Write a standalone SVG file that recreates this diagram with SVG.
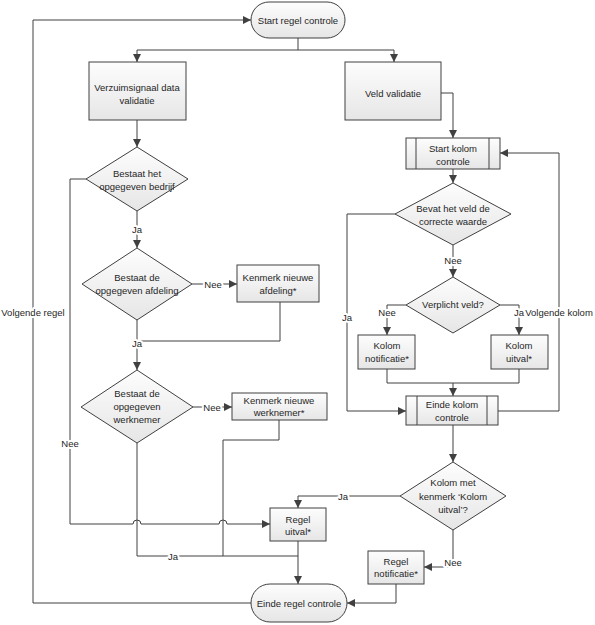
<svg xmlns="http://www.w3.org/2000/svg" width="595" height="625" viewBox="0 0 595 625">
<defs>
<linearGradient id="g" x1="0" y1="0" x2="0" y2="1">
<stop offset="0" stop-color="#fdfdfd"/>
<stop offset="1" stop-color="#e6e6e6"/>
</linearGradient>
<marker id="a" viewBox="0 0 8 8" markerWidth="8" markerHeight="8" refX="8" refY="4" orient="auto" markerUnits="userSpaceOnUse">
<path d="M0,0 L8,4 L0,8 z" fill="#404040"/>
</marker>
<style>
.n{fill:url(#g);stroke:#404040;stroke-width:1}
.l{fill:none;stroke:#404040;stroke-width:1}
.c{fill:none;stroke:#404040;stroke-width:1;marker-end:url(#a)}
text{font-family:"Liberation Sans",Arial,sans-serif;font-size:9.5px;fill:#262626;text-anchor:middle;dominant-baseline:central}
.lb{paint-order:stroke;stroke:#fff;stroke-width:4px;stroke-linejoin:round}
</style>
</defs>
<rect width="595" height="625" fill="#fff"/>
<g id="connectors">
<path class="c" d="M298,38 V50 H137 V62"/>
<path class="c" d="M298,50 H394 V62"/>
<path class="c" d="M137,120 V147"/>
<path class="c" d="M441,93 H453 V138"/>
<path class="c" d="M453,169 V183"/>
<path class="c" d="M137,211 V248"/>
<path class="c" d="M86,179 H70 V524 H133 A4,4 0 0 1 141,524 H219 A4,4 0 0 1 227,524 H270"/>
<path class="c" d="M192,284 H237"/>
<path class="c" d="M137,320 V370"/>
<path class="l" d="M280,302 V341 H137"/>
<path class="c" d="M193,407 H232"/>
<path class="l" d="M137,443 V556 H298"/>
<path class="l" d="M279,420 V440 H223 V556"/>
<path class="c" d="M298,541 V584"/>
<path class="c" d="M251,603 H33 V20 H251"/>
<path class="c" d="M395,214 H347 V411 H406"/>
<path class="c" d="M453,245 V277"/>
<path class="c" d="M406,305 H387 V335"/>
<path class="c" d="M500,305 H519 V335"/>
<path class="l" d="M387,369 V383 H519 V369"/>
<path class="c" d="M453,383 V396"/>
<path class="c" d="M498,411 H559 V153 H500"/>
<path class="c" d="M453,425 V462"/>
<path class="c" d="M400,496 H298 V508"/>
<path class="c" d="M453,530 V567 H424"/>
<path class="c" d="M396,584 V603 H347"/>
<text class="lb" x="137" y="229">Ja</text>
<text class="lb" x="70" y="443">Nee</text>
<text class="lb" x="213" y="284">Nee</text>
<text class="lb" x="137" y="343">Ja</text>
<text class="lb" x="212" y="407">Nee</text>
<text class="lb" x="173" y="556">Ja</text>
<text class="lb" x="33" y="312">Volgende regel</text>
<text class="lb" x="347" y="317">Ja</text>
<text class="lb" x="453" y="260">Nee</text>
<text class="lb" x="387" y="312">Nee</text>
<text class="lb" x="519" y="312">Ja</text>
<text class="lb" x="559" y="312">Volgende kolom</text>
<text class="lb" x="343" y="496">Ja</text>
<text class="lb" x="453" y="562">Nee</text>
</g>
<g id="start-regel"><rect class="n" x="251" y="2" width="94" height="36" rx="18"/><text x="298" y="20">Start regel controle</text></g>
<g id="verzuimsignaal"><rect class="n" x="89" y="62" width="97" height="58"/><text x="137" y="87">Verzuimsignaal data</text><text x="137" y="100">validatie</text></g>
<g id="veld-validatie"><rect class="n" x="345" y="62" width="96" height="58"/><text x="393" y="93">Veld validatie</text></g>
<g id="start-kolom"><rect class="n" x="406" y="138" width="94" height="31"/><path class="l" d="M416,138 V169 M489,138 V169"/><text x="453" y="148">Start kolom</text><text x="453" y="161">controle</text></g>
<g id="bedrijf"><path class="n" d="M137,147 L188,179 L137,211 L86,179 z"/><text x="137" y="173">Bestaat het</text><text x="137" y="186">opgegeven bedrijf</text></g>
<g id="bevat"><path class="n" d="M453,183 L511,214 L453,245 L395,214 z"/><text x="453" y="208">Bevat het veld de</text><text x="453" y="221">correcte waarde</text></g>
<g id="afdeling"><path class="n" d="M137,248 L192,284 L137,320 L82,284 z"/><text x="137" y="277">Bestaat de</text><text x="137" y="290">opgegeven afdeling</text></g>
<g id="kenmerk-afdeling"><rect class="n" x="237" y="265" width="82" height="37"/><text x="278" y="277">Kenmerk nieuwe</text><text x="278" y="290">afdeling*</text></g>
<g id="verplicht"><path class="n" d="M453,277 L500,305 L453,333 L406,305 z"/><text x="453" y="304">Verplicht veld?</text></g>
<g id="kolom-notificatie"><rect class="n" x="358" y="335" width="57" height="34"/><text x="387" y="345">Kolom</text><text x="387" y="358">notificatie*</text></g>
<g id="kolom-uitval"><rect class="n" x="491" y="335" width="57" height="34"/><text x="519" y="345">Kolom</text><text x="519" y="358">uitval*</text></g>
<g id="werknemer"><path class="n" d="M137,370 L193,407 L137,443 L81,407 z"/><text x="137" y="393">Bestaat de</text><text x="137" y="406">opgegeven</text><text x="137" y="419">werknemer</text></g>
<g id="kenmerk-werknemer"><rect class="n" x="232" y="393" width="95" height="27"/><text x="279" y="400">Kenmerk nieuwe</text><text x="279" y="412">werknemer*</text></g>
<g id="einde-kolom"><rect class="n" x="406" y="396" width="92" height="29"/><path class="l" d="M417,396 V425 M487,396 V425"/><text x="452" y="404">Einde kolom</text><text x="452" y="417">controle</text></g>
<g id="kolom-met-kenmerk"><path class="n" d="M453,462 L506,496 L453,530 L400,496 z"/><text x="453" y="482">Kolom met</text><text x="453" y="496">kenmerk ‘Kolom</text><text x="453" y="509">uitval’?</text></g>
<g id="regel-uitval"><rect class="n" x="270" y="508" width="56" height="33"/><text x="298" y="519">Regel</text><text x="298" y="531">uitval*</text></g>
<g id="regel-notificatie"><rect class="n" x="368" y="551" width="56" height="33"/><text x="396" y="561">Regel</text><text x="396" y="573">notificatie*</text></g>
<g id="einde-regel"><rect class="n" x="251" y="584" width="96" height="38" rx="19"/><text x="299" y="603">Einde regel controle</text></g>
</svg>
